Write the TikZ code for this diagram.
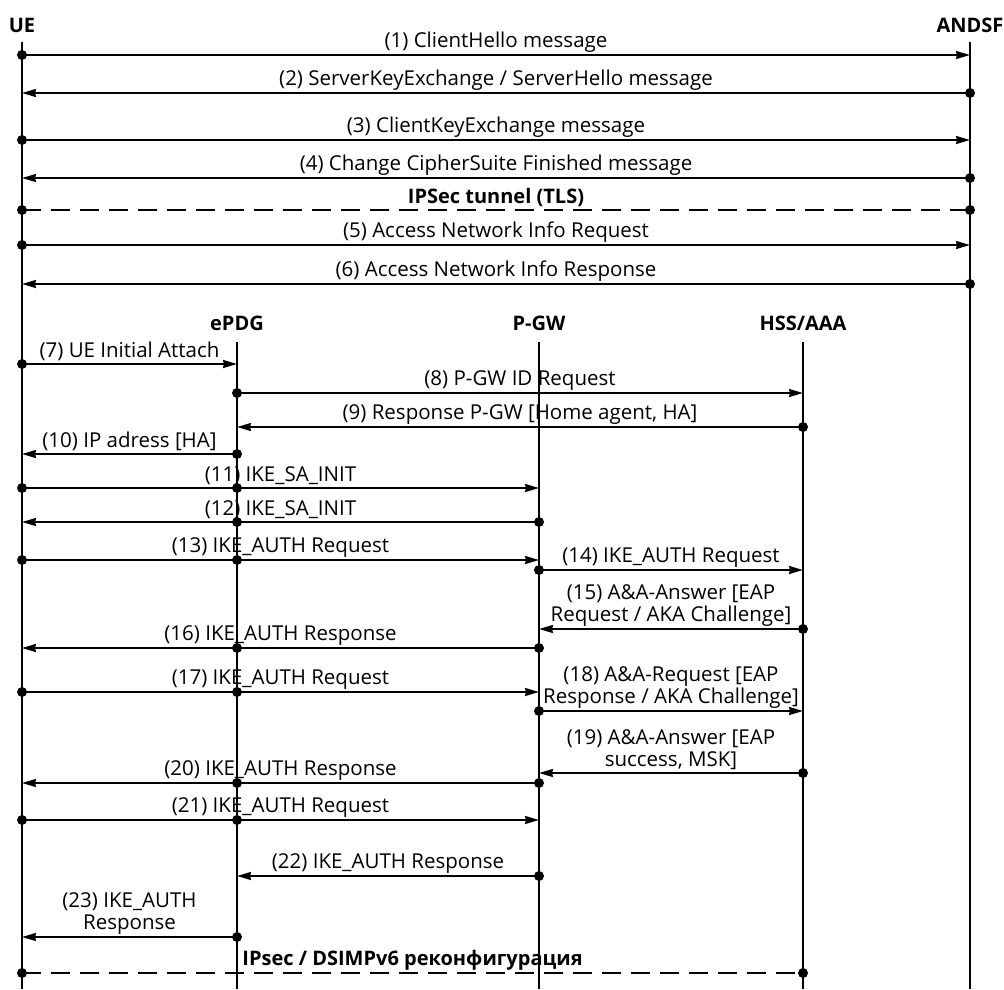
\documentclass[tikz,border=0pt]{standalone}
\usepackage{fontspec}
\setmainfont{Open Sans}
\usetikzlibrary{arrows.meta,positioning}

\begin{document}
\begin{tikzpicture}[x=1pt,y=-1pt,
    font=\fontsize{20.5}{22}\selectfont,
    life/.style={line width=1.8pt},
    msg/.style={line width=1.8pt,-{Stealth[length=14pt,width=8pt,inset=1pt]}},
    tun/.style={line width=1.8pt,dash pattern=on 19pt off 10pt},
    dot/.style={circle,fill=black,minimum size=10pt,inner sep=0pt},
    head/.style={font=\fontsize{20}{22}\selectfont\bfseries},
    lbl/.style={above,inner sep=2pt,align=center},
  ]
\useasboundingbox (0,0) rectangle (1004,989);

% ======================= lifelines =======================
\node[head] (hue)    at (22,25)   {UE};
\node[head] (handsf) at (970,25)  {ANDSF};
\node[head] (hepdg)  at (237,323) {ePDG};
\node[head] (hpgw)   at (539,323) {P-GW};
\node[head] (hhss)   at (803,323) {HSS/AAA};

\coordinate (ue)    at (22,42);
\coordinate (andsf) at (970,42);
\coordinate (epdg)  at (237,342);
\coordinate (pgw)   at (539,342);
\coordinate (hss)   at (803,342);
\coordinate (bot)   at (0,989);

\foreach \l in {ue,andsf,epdg,pgw,hss}
  \draw[life] (\l) -- (\l |- bot);

% message rows
\foreach \n/\y in {r1/55,r2/93,r3/140,r4/178,t1/210,r5/245,r6/284,
                   r7/364,r8/393,r9/427,r10/454,r11/488,r12/522,r13/560,
                   r14/570,r15/629,r16/648,r17/692,r18/711,r19/773,r20/783,
                   r21/820,r22/876,r23/937,t2/973}
  \coordinate (\n) at (0,\y);

% ======================= UE <-> ANDSF =======================
\draw[msg] (ue |- r1) -- node[lbl] {(1) ClientHello message} (andsf |- r1);
\draw[msg] (andsf |- r2) -- node[lbl] {(2) ServerKeyExchange / ServerHello message} (ue |- r2);
\draw[msg] (ue |- r3) -- node[lbl] {(3) ClientKeyExchange message} (andsf |- r3);
\draw[msg] (andsf |- r4) -- node[lbl] {(4) Change CipherSuite Finished message} (ue |- r4);
\draw[tun] (ue |- t1) -- node[lbl,head] {IPSec tunnel (TLS)} (andsf |- t1);
\draw[msg] (ue |- r5) -- node[lbl] {(5) Access Network Info Request} (andsf |- r5);
\draw[msg] (andsf |- r6) -- node[lbl] {(6) Access Network Info Response} (ue |- r6);

% ======================= attach and IKE =======================
\draw[msg] (ue |- r7) -- node[lbl] {(7) UE Initial Attach} (epdg |- r7);
\draw[msg] (epdg |- r8) -- node[lbl] {(8) P-GW ID Request} (hss |- r8);
\draw[msg] (hss |- r9) -- node[lbl] {(9) Response P-GW [Home agent, HA]} (epdg |- r9);
\draw[msg] (epdg |- r10) -- node[lbl] {(10) IP adress [HA]} (ue |- r10);
\draw[msg] (ue |- r11) -- node[lbl] {(11) IKE\_SA\_INIT} (pgw |- r11);
\draw[msg] (pgw |- r12) -- node[lbl] {(12) IKE\_SA\_INIT} (ue |- r12);
\draw[msg] (ue |- r13) -- node[lbl] {(13) IKE\_AUTH Request} (pgw |- r13);
\draw[msg] (pgw |- r14) -- node[lbl] {(14) IKE\_AUTH Request} (hss |- r14);
\draw[msg] (hss |- r15) -- node[lbl] {(15) A\&A-Answer [EAP\\Request / AKA Challenge]} (pgw |- r15);
\draw[msg] (pgw |- r16) -- node[lbl] {(16) IKE\_AUTH Response} (ue |- r16);
\draw[msg] (ue |- r17) -- node[lbl] {(17) IKE\_AUTH Request} (pgw |- r17);
\draw[msg] (pgw |- r18) -- node[lbl] {(18) A\&A-Request [EAP\\Response / AKA Challenge]} (hss |- r18);
\draw[msg] (hss |- r19) -- node[lbl] {(19) A\&A-Answer [EAP\\success, MSK]} (pgw |- r19);
\draw[msg] (pgw |- r20) -- node[lbl] {(20) IKE\_AUTH Response} (ue |- r20);
\draw[msg] (ue |- r21) -- node[lbl] {(21) IKE\_AUTH Request} (pgw |- r21);
\draw[msg] (pgw |- r22) -- node[lbl] {(22) IKE\_AUTH Response} (epdg |- r22);
\draw[msg] (epdg |- r23) -- node[lbl] {(23) IKE\_AUTH\\Response} (ue |- r23);
\draw[tun] (ue |- t2) -- node[lbl,head] {IPsec / DSIMPv6 реконфигурация} (hss |- t2);

% ======================= dots =======================
\foreach \l/\r in {ue/r1,andsf/r2,ue/r3,andsf/r4,ue/t1,andsf/t1,ue/r5,andsf/r6,
                   ue/r7,epdg/r8,hss/r9,epdg/r10,ue/r11,epdg/r11,pgw/r12,epdg/r12,
                   ue/r13,epdg/r13,pgw/r14,hss/r15,pgw/r16,epdg/r16,ue/r17,epdg/r17,
                   pgw/r18,hss/r19,pgw/r20,epdg/r20,ue/r21,epdg/r21,pgw/r22,
                   epdg/r23,ue/t2,hss/t2}
  \node[dot] at (\l |- \r) {};

\end{tikzpicture}
\end{document}
